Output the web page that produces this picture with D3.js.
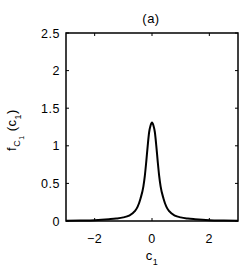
<!DOCTYPE html>
<html>
<head>
<meta charset="utf-8">
<script src="https://cdn.jsdelivr.net/npm/d3@7"></script>
<style>
  body { margin: 0; background: #fff; }
  text { font-family: "Liberation Sans", Arial, sans-serif; fill: #000; letter-spacing: 0.5px; }
</style>
</head>
<body>
<div id="container"></div>
<script>
// right half of the density curve (mirrored for the left half)
const c1Half = [0, 0.05, 0.1, 0.15, 0.2, 0.25, 0.3, 0.4, 0.5, 0.6, 0.8, 1.0, 1.25, 1.5, 2, 2.5, 3];
const fHalf = [1.31, 1.27, 1.18, 1.0, 0.79, 0.6, 0.46, 0.3, 0.19, 0.13, 0.072, 0.048, 0.033, 0.024, 0.011, 0.006, 0.003];
const xTicks = [-2, 0, 2];
const yTicks = [0, 0.5, 1, 1.5, 2, 2.5];

const w = 246;
const h = 271;
const pad = { top: 33, bottom: 50, left: 66, right: 8 };
const fs = 12.5;

const points = [];
for (let i = c1Half.length - 1; i > 0; i--) points.push([-c1Half[i], fHalf[i]]);
for (let i = 0; i < c1Half.length; i++) points.push([c1Half[i], fHalf[i]]);

const x = d3.scaleLinear().domain([-3, 3]).range([pad.left, w - pad.right]);
const y = d3.scaleLinear().domain([0, 2.5]).range([h - pad.bottom, pad.top]);

const svg = d3.select("#container").append("svg")
  .attr("width", w)
  .attr("height", h);

// ticks inside the box, on all four sides
const tickLen = 3;
const g = svg.append("g").attr("stroke", "#000").attr("stroke-width", 1);
xTicks.forEach((t) => {
  g.append("line").attr("x1", x(t)).attr("x2", x(t))
    .attr("y1", y(0)).attr("y2", y(0) - tickLen);
  g.append("line").attr("x1", x(t)).attr("x2", x(t))
    .attr("y1", y(2.5)).attr("y2", y(2.5) + tickLen);
});
yTicks.forEach((t) => {
  g.append("line").attr("x1", x(-3)).attr("x2", x(-3) + tickLen)
    .attr("y1", y(t)).attr("y2", y(t));
  g.append("line").attr("x1", x(3)).attr("x2", x(3) - tickLen)
    .attr("y1", y(t)).attr("y2", y(t));
});

const line = d3.line()
  .x((d) => x(d[0]))
  .y((d) => y(d[1]))
  .curve(d3.curveMonotoneX);

svg.append("path")
  .datum(points)
  .attr("d", line)
  .attr("fill", "none")
  .attr("stroke", "#000")
  .attr("stroke-width", 2);

svg.append("rect")
  .attr("x", x(-3)).attr("y", y(2.5))
  .attr("width", x(3) - x(-3)).attr("height", y(0) - y(2.5))
  .attr("fill", "none").attr("stroke", "#000").attr("stroke-width", 1.5);

svg.append("g").selectAll("text").data(xTicks).enter().append("text")
  .attr("x", (d) => x(d))
  .attr("y", y(0) + 22)
  .attr("text-anchor", "middle")
  .attr("font-size", fs)
  .text((d) => (d < 0 ? "\u2212" + Math.abs(d) : d));

svg.append("g").selectAll("text").data(yTicks).enter().append("text")
  .attr("x", x(-3) - 6)
  .attr("y", (d) => y(d) + 4.5)
  .attr("text-anchor", "end")
  .attr("font-size", fs)
  .text((d) => d);

svg.append("text")
  .attr("x", 151).attr("y", 23)
  .attr("text-anchor", "middle")
  .attr("font-size", 13)
  .text("(a)");

const xl = svg.append("text")
  .attr("x", 152).attr("y", 260)
  .attr("text-anchor", "middle")
  .attr("font-size", 13);
xl.append("tspan").text("c");
xl.append("tspan").attr("font-size", 9).attr("dy", 5).text("1");

const yl = svg.append("text")
  .attr("transform", "translate(16,130) rotate(-90)")
  .attr("text-anchor", "middle")
  .attr("font-size", 13);
yl.append("tspan").text("f");
yl.append("tspan").attr("font-size", 9).attr("dy", 4).text("C");
yl.append("tspan").attr("font-size", 7).attr("dy", 4).text("1");
yl.append("tspan").attr("dy", -8).text(" (c");
yl.append("tspan").attr("font-size", 9).attr("dy", 5).text("1");
yl.append("tspan").attr("dy", -5).text(")");
</script>
</body>
</html>
